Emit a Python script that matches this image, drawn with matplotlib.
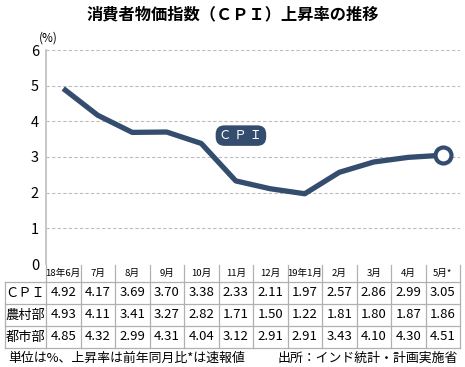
import matplotlib.pyplot as plt

plt.rcParams['font.family'] = ['Noto Sans CJK JP', 'DejaVu Sans']

months = ["18年6月", "7月", "8月", "9月", "10月", "11月", "12月", "19年1月",
          "2月", "3月", "4月", "5月*"]
cpi = [4.92, 4.17, 3.69, 3.70, 3.38, 2.33, 2.11, 1.97, 2.57, 2.86, 2.99, 3.05]
rural = [4.93, 4.11, 3.41, 3.27, 2.82, 1.71, 1.50, 1.22, 1.81, 1.80, 1.87, 1.86]
urban = [4.85, 4.32, 2.99, 4.31, 4.04, 3.12, 2.91, 2.91, 3.43, 4.10, 4.30, 4.51]
row_labels = ["ＣＰＩ", "農村部", "都市部"]
rows = [cpi, rural, urban]

W, H = 465, 367
NAVY = "#344c6e"
GRID = "#bdbdbd"

fig = plt.figure(figsize=(W / 100, H / 100), dpi=100)

# plot area: x 46..460 px, y=0 at 264 px, y=6 at 50 px
x0, x1 = 46, 460
ax = fig.add_axes([x0 / W, 1 - 264 / H, (x1 - x0) / W, (264 - 50) / H])
ax.set_xlim(0, len(months))
ax.set_ylim(0, 6)
xs = [i + 0.5 for i in range(len(months))]
ax.plot(xs, cpi, color=NAVY, lw=3.8, solid_capstyle="butt", solid_joinstyle="round", zorder=3)
ax.plot(xs[-1], cpi[-1], "o", ms=11.5, mfc="white", mec=NAVY, mew=3, zorder=4)
for y in range(1, 7):
    ax.axhline(y, color=GRID, lw=0.8, ls=(0, (3, 2)), zorder=1)
for s in ["top", "right", "bottom"]:
    ax.spines[s].set_visible(False)
ax.spines["left"].set_color(GRID)
ax.spines["left"].set_linewidth(1.2)
ax.set_xticks([])
ax.set_yticks(range(0, 7))
ax.tick_params(axis="y", length=0, pad=5, labelsize=10.5)
ax.text(-0.2, 6.15, "(%)", fontsize=8.5, ha="left", va="bottom")
ax.text(5.65, 3.6, "Ｃ Ｐ Ｉ", color="white", fontsize=9, ha="center", va="center",
        bbox=dict(boxstyle="round,pad=0.3,rounding_size=0.7", fc=NAVY, ec="none"))

fig.text(0.5, 1 - 14 / H, "消費者物価指数（ＣＰＩ）上昇率の推移", fontsize=11.7,
         fontweight="bold", ha="center", va="center")

# table
tab = fig.add_axes([0, 0, 1, 1])
tab.set_xlim(0, W)
tab.set_ylim(H, 0)
tab.axis("off")
col_w = (x1 - x0) / len(months)
row_y = [265, 282, 304, 326, 348]
lc = "#b0b0b0"
for i in range(len(months) + 1):
    tab.plot([x0 + i * col_w] * 2, [row_y[0], row_y[-1]], color=lc, lw=0.9)
tab.plot([5, 5], [row_y[1], row_y[-1]], color=lc, lw=0.9)
for y in row_y[1:]:
    tab.plot([5, x1], [y, y], color=lc, lw=0.9)
for i, m in enumerate(months):
    tab.text(x0 + (i + 0.5) * col_w, (row_y[0] + row_y[1]) / 2, m, fontsize=6.9,
             ha="center", va="center")
for r, (lab, vals) in enumerate(zip(row_labels, rows)):
    yc = (row_y[r + 1] + row_y[r + 2]) / 2
    tab.text(25.5, yc, lab, fontsize=9.5, ha="center", va="center")
    for i, v in enumerate(vals):
        tab.text(x0 + (i + 0.5) * col_w, yc, f"{v:.2f}", fontsize=9.5,
                 ha="center", va="center")

fig.text(8 / W, 1 - 358 / H, "単位は%、上昇率は前年同月比*は速報値", fontsize=9.3,
         ha="left", va="center")
fig.text(458 / W, 1 - 358 / H, "出所：インド統計・計画実施省", fontsize=9.3,
         ha="right", va="center")

fig.savefig("out.png", dpi=100)
